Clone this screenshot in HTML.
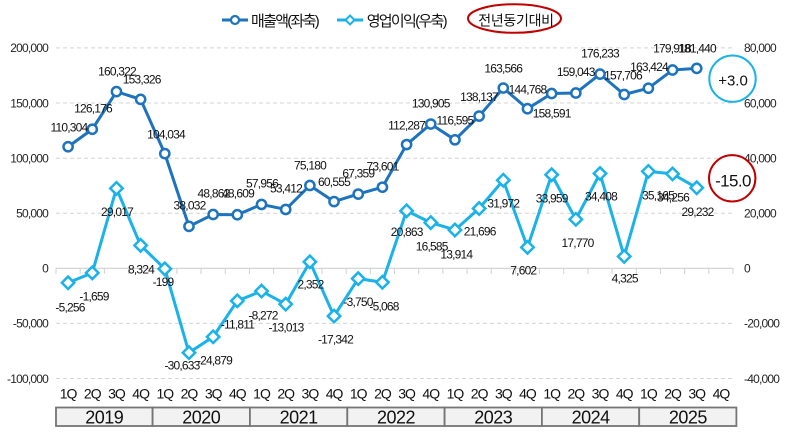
<!DOCTYPE html>
<html><head><meta charset="utf-8"><style>
html,body{margin:0;padding:0;background:#fff;}
svg{display:block;}
text{font-family:"Liberation Sans","Noto Sans CJK KR",sans-serif;}
.ax{font-size:12px;fill:#262626;letter-spacing:-0.8px;}
.lb{font-size:12px;fill:#111;letter-spacing:-0.8px;text-anchor:middle;}
.q{font-size:14px;fill:#111;letter-spacing:-1px;text-anchor:middle;}
.yr{font-size:18px;fill:#111;letter-spacing:-0.5px;text-anchor:middle;}
.lg{font-size:15px;fill:#111;letter-spacing:-1.7px;}
</style></head><body>
<svg width="788" height="439" viewBox="0 0 788 439" xmlns="http://www.w3.org/2000/svg">
<!-- gridlines -->
<g stroke="#d4d4d4" stroke-width="1" stroke-dasharray="4 3">
<line x1="56" y1="47.9" x2="733" y2="47.9"/>
<line x1="56" y1="103" x2="733" y2="103"/>
<line x1="56" y1="158.2" x2="733" y2="158.2"/>
<line x1="56" y1="213.2" x2="733" y2="213.2"/>
<line x1="56" y1="323.4" x2="733" y2="323.4"/>
<line x1="56" y1="378.5" x2="733" y2="378.5"/>
</g>
<line x1="56" y1="268.3" x2="733" y2="268.3" stroke="#d0d0d0" stroke-width="1.2"/>
<g stroke="#d0d0d0" stroke-width="1">
<line x1="56" y1="268" x2="56" y2="274"/><line x1="80.18" y1="268" x2="80.18" y2="274"/><line x1="104.36" y1="268" x2="104.36" y2="274"/><line x1="128.54" y1="268" x2="128.54" y2="274"/><line x1="152.71" y1="268" x2="152.71" y2="274"/><line x1="176.89" y1="268" x2="176.89" y2="274"/><line x1="201.07" y1="268" x2="201.07" y2="274"/><line x1="225.25" y1="268" x2="225.25" y2="274"/><line x1="249.43" y1="268" x2="249.43" y2="274"/><line x1="273.61" y1="268" x2="273.61" y2="274"/><line x1="297.79" y1="268" x2="297.79" y2="274"/><line x1="321.96" y1="268" x2="321.96" y2="274"/><line x1="346.14" y1="268" x2="346.14" y2="274"/><line x1="370.32" y1="268" x2="370.32" y2="274"/><line x1="394.5" y1="268" x2="394.5" y2="274"/><line x1="418.68" y1="268" x2="418.68" y2="274"/><line x1="442.86" y1="268" x2="442.86" y2="274"/><line x1="467.04" y1="268" x2="467.04" y2="274"/><line x1="491.21" y1="268" x2="491.21" y2="274"/><line x1="515.39" y1="268" x2="515.39" y2="274"/><line x1="539.57" y1="268" x2="539.57" y2="274"/><line x1="563.75" y1="268" x2="563.75" y2="274"/><line x1="587.93" y1="268" x2="587.93" y2="274"/><line x1="612.11" y1="268" x2="612.11" y2="274"/><line x1="636.29" y1="268" x2="636.29" y2="274"/><line x1="660.46" y1="268" x2="660.46" y2="274"/><line x1="684.64" y1="268" x2="684.64" y2="274"/><line x1="708.82" y1="268" x2="708.82" y2="274"/><line x1="733" y1="268" x2="733" y2="274"/>
</g>
<!-- left axis labels -->
<g class="ax" text-anchor="end">
<text x="48" y="52.2">200,000</text>
<text x="48" y="107.3">150,000</text>
<text x="48" y="162.5">100,000</text>
<text x="48" y="217.5">50,000</text>
<text x="48" y="272.6">0</text>
<text x="48" y="327.7">-50,000</text>
<text x="48" y="382.8">-100,000</text>
</g>
<!-- right axis labels -->
<g class="ax" text-anchor="start">
<text x="744" y="52.2">80,000</text>
<text x="744" y="107.3">60,000</text>
<text x="744" y="162.5">40,000</text>
<text x="744" y="217.5">20,000</text>
<text x="744" y="272.6">0</text>
<text x="744" y="327.7">-20,000</text>
<text x="744" y="382.8">-40,000</text>
</g>
<!-- revenue series -->
<polyline fill="none" stroke="#1e73be" stroke-width="3" stroke-linejoin="round" points="68.09,146.74 92.27,129.25 116.45,91.63 140.63,99.33 164.8,153.65 188.98,226.39 213.16,214.45 237.34,214.73 261.52,204.43 285.7,209.44 309.88,185.45 334.05,201.57 358.23,194.07 382.41,187.19 406.59,144.56 430.77,124.04 454.95,139.81 479.13,116.07 503.3,88.05 527.48,108.77 551.66,93.53 575.84,93.03 600.02,74.09 624.2,94.51 648.38,88.21 672.55,70.03 696.73,68.35"/>
<g fill="#fff" stroke="#1e73be" stroke-width="2.5">
<circle cx="68.09" cy="146.74" r="4.6"/><circle cx="92.27" cy="129.25" r="4.6"/><circle cx="116.45" cy="91.63" r="4.6"/><circle cx="140.63" cy="99.33" r="4.6"/><circle cx="164.8" cy="153.65" r="4.6"/><circle cx="188.98" cy="226.39" r="4.6"/><circle cx="213.16" cy="214.45" r="4.6"/><circle cx="237.34" cy="214.73" r="4.6"/><circle cx="261.52" cy="204.43" r="4.6"/><circle cx="285.7" cy="209.44" r="4.6"/><circle cx="309.88" cy="185.45" r="4.6"/><circle cx="334.05" cy="201.57" r="4.6"/><circle cx="358.23" cy="194.07" r="4.6"/><circle cx="382.41" cy="187.19" r="4.6"/><circle cx="406.59" cy="144.56" r="4.6"/><circle cx="430.77" cy="124.04" r="4.6"/><circle cx="454.95" cy="139.81" r="4.6"/><circle cx="479.13" cy="116.07" r="4.6"/><circle cx="503.3" cy="88.05" r="4.6"/><circle cx="527.48" cy="108.77" r="4.6"/><circle cx="551.66" cy="93.53" r="4.6"/><circle cx="575.84" cy="93.03" r="4.6"/><circle cx="600.02" cy="74.09" r="4.6"/><circle cx="624.2" cy="94.51" r="4.6"/><circle cx="648.38" cy="88.21" r="4.6"/><circle cx="672.55" cy="70.03" r="4.6"/><circle cx="696.73" cy="68.35" r="4.6"/>
</g>
<!-- profit series -->
<polyline fill="none" stroke="#1ab2e8" stroke-width="3" stroke-linejoin="round" points="68.09,282.78 92.27,272.87 116.45,188.36 140.63,245.37 164.8,268.85 188.98,352.69 213.16,336.84 237.34,300.84 261.52,291.09 285.7,304.15 309.88,261.82 334.05,316.08 358.23,278.63 382.41,282.26 406.59,210.82 430.77,222.61 454.95,229.97 479.13,208.53 503.3,180.22 527.48,247.36 551.66,174.74 575.84,219.34 600.02,173.51 624.2,256.38 648.38,171.42 672.55,173.92 696.73,187.77"/>
<g fill="#fff" stroke="#1ab2e8" stroke-width="2.5" stroke-linejoin="miter">
<path d="M68.09,276.58 l6.2,6.2 l-6.2,6.2 l-6.2,-6.2 z"/>
<path d="M92.27,266.67 l6.2,6.2 l-6.2,6.2 l-6.2,-6.2 z"/>
<path d="M116.45,182.16 l6.2,6.2 l-6.2,6.2 l-6.2,-6.2 z"/>
<path d="M140.63,239.17 l6.2,6.2 l-6.2,6.2 l-6.2,-6.2 z"/>
<path d="M164.8,262.65 l6.2,6.2 l-6.2,6.2 l-6.2,-6.2 z"/>
<path d="M188.98,346.49 l6.2,6.2 l-6.2,6.2 l-6.2,-6.2 z"/>
<path d="M213.16,330.64 l6.2,6.2 l-6.2,6.2 l-6.2,-6.2 z"/>
<path d="M237.34,294.64 l6.2,6.2 l-6.2,6.2 l-6.2,-6.2 z"/>
<path d="M261.52,284.89 l6.2,6.2 l-6.2,6.2 l-6.2,-6.2 z"/>
<path d="M285.7,297.95 l6.2,6.2 l-6.2,6.2 l-6.2,-6.2 z"/>
<path d="M309.88,255.62 l6.2,6.2 l-6.2,6.2 l-6.2,-6.2 z"/>
<path d="M334.05,309.88 l6.2,6.2 l-6.2,6.2 l-6.2,-6.2 z"/>
<path d="M358.23,272.43 l6.2,6.2 l-6.2,6.2 l-6.2,-6.2 z"/>
<path d="M382.41,276.06 l6.2,6.2 l-6.2,6.2 l-6.2,-6.2 z"/>
<path d="M406.59,204.62 l6.2,6.2 l-6.2,6.2 l-6.2,-6.2 z"/>
<path d="M430.77,216.41 l6.2,6.2 l-6.2,6.2 l-6.2,-6.2 z"/>
<path d="M454.95,223.77 l6.2,6.2 l-6.2,6.2 l-6.2,-6.2 z"/>
<path d="M479.13,202.33 l6.2,6.2 l-6.2,6.2 l-6.2,-6.2 z"/>
<path d="M503.3,174.02 l6.2,6.2 l-6.2,6.2 l-6.2,-6.2 z"/>
<path d="M527.48,241.16 l6.2,6.2 l-6.2,6.2 l-6.2,-6.2 z"/>
<path d="M551.66,168.54 l6.2,6.2 l-6.2,6.2 l-6.2,-6.2 z"/>
<path d="M575.84,213.14 l6.2,6.2 l-6.2,6.2 l-6.2,-6.2 z"/>
<path d="M600.02,167.31 l6.2,6.2 l-6.2,6.2 l-6.2,-6.2 z"/>
<path d="M624.2,250.18 l6.2,6.2 l-6.2,6.2 l-6.2,-6.2 z"/>
<path d="M648.38,165.22 l6.2,6.2 l-6.2,6.2 l-6.2,-6.2 z"/>
<path d="M672.55,167.72 l6.2,6.2 l-6.2,6.2 l-6.2,-6.2 z"/>
<path d="M696.73,181.57 l6.2,6.2 l-6.2,6.2 l-6.2,-6.2 z"/>
</g>
<!-- revenue labels -->
<g class="lb">
<text x="69" y="131.3">110,304</text>
<text x="93" y="112.3">126,176</text>
<text x="117" y="75.3">160,322</text>
<text x="141.7" y="83.3">153,326</text>
<text x="166" y="138.3">104,034</text>
<text x="189.5" y="209.3">38,032</text>
<text x="213.5" y="197.3">48,862</text>
<text x="238" y="197.3">48,609</text>
<text x="262" y="187.3">57,956</text>
<text x="286" y="192.3">53,412</text>
<text x="310" y="169.3">75,180</text>
<text x="334" y="186">60,555</text>
<text x="358.3" y="177.3">67,359</text>
<text x="382.5" y="170.3">73,601</text>
<text x="406.6" y="129.3">112,287</text>
<text x="430.8" y="107.3">130,905</text>
<text x="455" y="124.3">116,595</text>
<text x="479" y="101">138,137</text>
<text x="503.3" y="72.6">163,566</text>
<text x="527.5" y="93.6">144,768</text>
<text x="551.7" y="117.6">158,591</text>
<text x="575.8" y="76">159,043</text>
<text x="600" y="57.6">176,233</text>
<text x="623" y="79.3">157,706</text>
<text x="649" y="71">163,424</text>
<text x="672" y="52.3">179,918</text>
<text x="697" y="52.3">181,440</text>
</g>
<!-- profit labels -->
<g class="lb">
<text x="70" y="311.6">-5,256</text>
<text x="94" y="300.3">-1,659</text>
<text x="117" y="216">29,017</text>
<text x="141" y="273.6">8,324</text>
<text x="163" y="286">-199</text>
<text x="182" y="369.3">-30,633</text>
<text x="214.5" y="364.3">-24,879</text>
<text x="237.5" y="328.3">-11,811</text>
<text x="263" y="319.3">-8,272</text>
<text x="286" y="331.6">-13,013</text>
<text x="310.5" y="288.6">2,352</text>
<text x="335.5" y="343.6">-17,342</text>
<text x="358" y="306">-3,750</text>
<text x="384" y="310.3">-5,068</text>
<text x="406.7" y="236">20,863</text>
<text x="431.7" y="250.3">16,585</text>
<text x="456.3" y="258.6">13,914</text>
<text x="479.7" y="235.3">21,696</text>
<text x="503.3" y="207.6">31,972</text>
<text x="523.3" y="274.3">7,602</text>
<text x="551.7" y="202.6">33,959</text>
<text x="577.5" y="247">17,770</text>
<text x="601" y="200.3">34,408</text>
<text x="624.7" y="282.6">4,325</text>
<text x="658" y="199.3">35,165</text>
<text x="673" y="201.6">34,256</text>
<text x="697.5" y="216">29,232</text>
</g>
<!-- quarter labels -->
<g class="q">
<text x="68.09" y="398.7">1Q</text><text x="92.27" y="398.7">2Q</text><text x="116.45" y="398.7">3Q</text><text x="140.63" y="398.7">4Q</text>
<text x="164.8" y="398.7">1Q</text><text x="188.98" y="398.7">2Q</text><text x="213.16" y="398.7">3Q</text><text x="237.34" y="398.7">4Q</text>
<text x="261.52" y="398.7">1Q</text><text x="285.7" y="398.7">2Q</text><text x="309.88" y="398.7">3Q</text><text x="334.05" y="398.7">4Q</text>
<text x="358.23" y="398.7">1Q</text><text x="382.41" y="398.7">2Q</text><text x="406.59" y="398.7">3Q</text><text x="430.77" y="398.7">4Q</text>
<text x="454.95" y="398.7">1Q</text><text x="479.13" y="398.7">2Q</text><text x="503.3" y="398.7">3Q</text><text x="527.48" y="398.7">4Q</text>
<text x="551.66" y="398.7">1Q</text><text x="575.84" y="398.7">2Q</text><text x="600.02" y="398.7">3Q</text><text x="624.2" y="398.7">4Q</text>
<text x="648.38" y="398.7">1Q</text><text x="672.55" y="398.7">2Q</text><text x="696.73" y="398.7">3Q</text><text x="720.91" y="398.7">4Q</text>
</g>
<!-- year boxes -->
<g fill="#f2f2f2" stroke="#757575" stroke-width="1.8">
<rect x="56" y="407.5" width="96.6" height="18.5"/>
<rect x="152.6" y="407.5" width="97.3" height="18.5"/>
<rect x="249.9" y="407.5" width="97.4" height="18.5"/>
<rect x="347.3" y="407.5" width="97.3" height="18.5"/>
<rect x="444.6" y="407.5" width="97.3" height="18.5"/>
<rect x="541.9" y="407.5" width="97.3" height="18.5"/>
<rect x="639.2" y="407.5" width="97.2" height="18.5"/>
</g>
<g class="yr">
<text x="104.3" y="423.3">2019</text>
<text x="201.3" y="423.3">2020</text>
<text x="298.6" y="423.3">2021</text>
<text x="396" y="423.3">2022</text>
<text x="493.3" y="423.3">2023</text>
<text x="590.6" y="423.3">2024</text>
<text x="687.9" y="423.3">2025</text>
</g>
<!-- legend -->
<line x1="222" y1="20" x2="248" y2="20" stroke="#1e73be" stroke-width="3"/>
<circle cx="235" cy="20" r="4" fill="#fff" stroke="#1e73be" stroke-width="2.2"/>
<text class="lg" x="251" y="26">매출액(좌축)</text>
<line x1="337" y1="20" x2="363" y2="20" stroke="#1ab2e8" stroke-width="3"/>
<path d="M350,15.5 l4.5,4.5 l-4.5,4.5 l-4.5,-4.5 z" fill="#fff" stroke="#1ab2e8" stroke-width="2"/>
<text class="lg" x="366.7" y="26">영업이익(우축)</text>
<ellipse cx="514.5" cy="18.5" rx="46.5" ry="14.3" fill="none" stroke="#c00000" stroke-width="2"/>
<text x="516" y="25.5" style="font-size:14px;fill:#111;letter-spacing:-0.3px;text-anchor:middle;">전년동기대비</text>
<!-- annotation circles -->
<circle cx="732.5" cy="78.7" r="23.2" fill="#fff" stroke="#1ab2e8" stroke-width="2"/>
<text x="733" y="85.5" style="font-size:15px;fill:#111;text-anchor:middle;">+3.0</text>
<circle cx="732.2" cy="178.3" r="23.2" fill="#fff" stroke="#c00000" stroke-width="2"/>
<text x="733" y="186.5" style="font-size:17px;fill:#111;letter-spacing:-0.6px;text-anchor:middle;">-15.0</text>
</svg>
</body></html>
